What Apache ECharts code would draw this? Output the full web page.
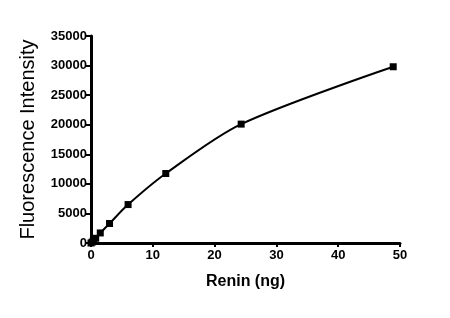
<!DOCTYPE html>
<html>
<head>
<meta charset="utf-8">
<script src="https://cdn.jsdelivr.net/npm/echarts@6/dist/echarts.min.js"></script>
<style>
html,body{margin:0;padding:0;background:#fff;}
#chart{width:450px;height:318px;}
</style>
</head>
<body>
<div id="chart"></div>
<script>
var reninNg = [0, 0.19, 0.38, 0.76, 1.5, 3.0, 6.0, 12.1, 24.3, 48.9];
var fluorescence = [0, 150, 400, 800, 1700, 3300, 6500, 11750, 20100, 29800];
var xTicks = [0, 10, 20, 30, 40, 50];
var yTicks = [0, 5000, 10000, 15000, 20000, 25000, 30000, 35000];

var points = reninNg.map(function (x, i) { return [x, fluorescence[i]]; });
var font = '"Liberation Sans", Arial, sans-serif';

var chart = echarts.init(document.getElementById('chart'), null, {renderer: 'canvas'});
chart.setOption({
  animation: false,
  backgroundColor: '#ffffff',
  grid: {left: 91, right: 50, top: 36, bottom: 75, containLabel: false},
  xAxis: {
    type: 'value',
    min: xTicks[0], max: xTicks[xTicks.length - 1], interval: 10,
    name: 'Renin (ng)', nameLocation: 'middle', nameGap: 31,
    nameTextStyle: {fontFamily: font, fontSize: 16, fontWeight: 'bold', color: '#000'},
    axisLine: {show: true, lineStyle: {color: '#000', width: 3}},
    axisTick: {show: true, length: 4, lineStyle: {color: '#000', width: 2}},
    axisLabel: {fontFamily: font, fontSize: 13, fontWeight: 'bold', color: '#000', margin: 6,
      formatter: function (v) { return String(v); }},
    splitLine: {show: false}
  },
  yAxis: {
    type: 'value',
    min: yTicks[0], max: yTicks[yTicks.length - 1], interval: 5000,
    name: 'Fluorescence Intensity', nameLocation: 'middle', nameGap: 53, nameRotate: 90,
    nameTextStyle: {fontFamily: font, fontSize: 20, color: '#000'},
    axisLine: {show: true, lineStyle: {color: '#000', width: 3}},
    axisTick: {show: true, length: 5, lineStyle: {color: '#000', width: 2}},
    axisLabel: {fontFamily: font, fontSize: 13, fontWeight: 'bold', color: '#000', margin: 4,
      formatter: function (v) { return String(v); }},
    splitLine: {show: false}
  },
  series: [{
    type: 'line',
    data: points,
    smooth: 0.3,
    symbol: 'rect',
    symbolSize: 7,
    showAllSymbol: true,
    itemStyle: {color: '#000'},
    lineStyle: {color: '#000', width: 2}
  }]
});
</script>
</body>
</html>
